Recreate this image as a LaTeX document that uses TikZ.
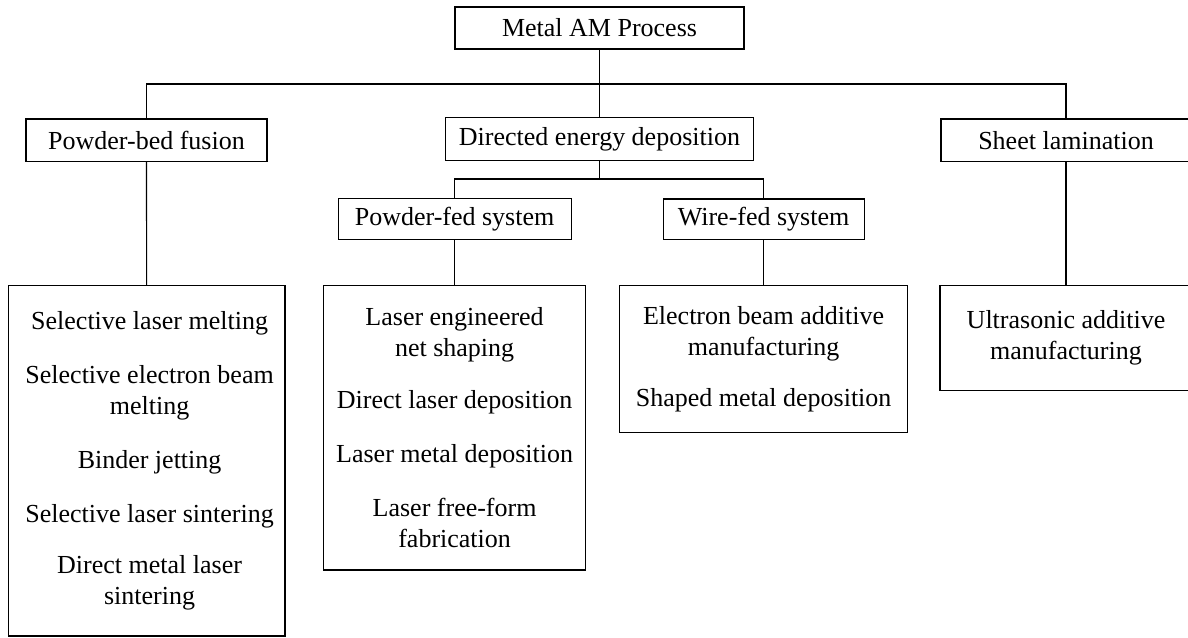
\documentclass[tikz,border=0pt]{standalone}
\usepackage{fontspec}
\setmainfont{Liberation Serif}
\begin{document}
\begin{tikzpicture}[x=1pt,y=-1pt,
  box/.style={draw, line width=1.2pt, inner sep=0pt, align=center,
    font=\fontsize{26}{31}\selectfont},
  txt/.style={inner sep=0pt, align=center, font=\fontsize{26}{31}\selectfont},
  link/.style={line width=1.1pt}]
\useasboundingbox (0,0) rectangle (1188,637);
% top level
\node[box, minimum width=289pt, minimum height=42pt] (top) at (599.5,28) {Metal AM Process};
\node[box, minimum width=241pt, minimum height=42.6pt] (pbf) at (146.5,140.3) {Powder-bed fusion};
\node[box, minimum width=308pt, minimum height=42.7pt] (ded) at (599.5,139) {Directed energy deposition};
\node[box, minimum width=250pt, minimum height=42.6pt] (sheet) at (1066,140.3) {Sheet lamination};
% second level
\node[box, minimum width=233pt, minimum height=41.3pt] (pfs) at (454.6,218.9) {Powder-fed system};
\node[box, minimum width=201pt, minimum height=40.6pt] (wfs) at (763.6,219.2) {Wire-fed system};
% lists
\node[box, minimum width=276.6pt, minimum height=350.7pt] (pbflist) at (146.6,460.7) {};
\node[txt] (pbftext) at (149.6,460.7)
  {Selective laser melting\\[23pt]Selective electron beam\\melting\\[23pt]Binder jetting\\[23pt]Selective laser sintering\\[20pt]Direct metal laser\\sintering};
\node[box, minimum width=261.5pt, minimum height=284.7pt] (pfslist) at (454.6,427.7)
  {Laser engineered\\net shaping\\[21pt]Direct laser deposition\\[23pt]Laser metal deposition\\[23pt]Laser free-form\\fabrication};
\node[box, minimum width=288pt, minimum height=147pt] (wfslist) at (763.6,358.8)
  {Electron beam additive\\manufacturing\\[20pt]Shaped metal deposition};
\node[box, minimum width=252pt, minimum height=105.7pt] (sheetlist) at (1066,338)
  {Ultrasonic additive\\manufacturing};
% connectors
\coordinate (bus) at (0,84);
\coordinate (dbus) at (0,179);
\draw[link] (top.south) -- (ded.north);
\draw[link] (pbf.north) |- (sheet.north |- bus) -- (sheet.north);
\draw[link] (ded.south) -- (ded.south |- dbus);
\draw[link] (pfs.north) |- (wfs.north |- dbus) -- (wfs.north);
\draw[link] (pbf.south) -- (pbflist.north);
\draw[link] (pfs.south) -- (pfslist.north);
\draw[link] (wfs.south) -- (wfslist.north);
\draw[link] (sheet.south) -- (sheetlist.north);
\end{tikzpicture}
\end{document}
